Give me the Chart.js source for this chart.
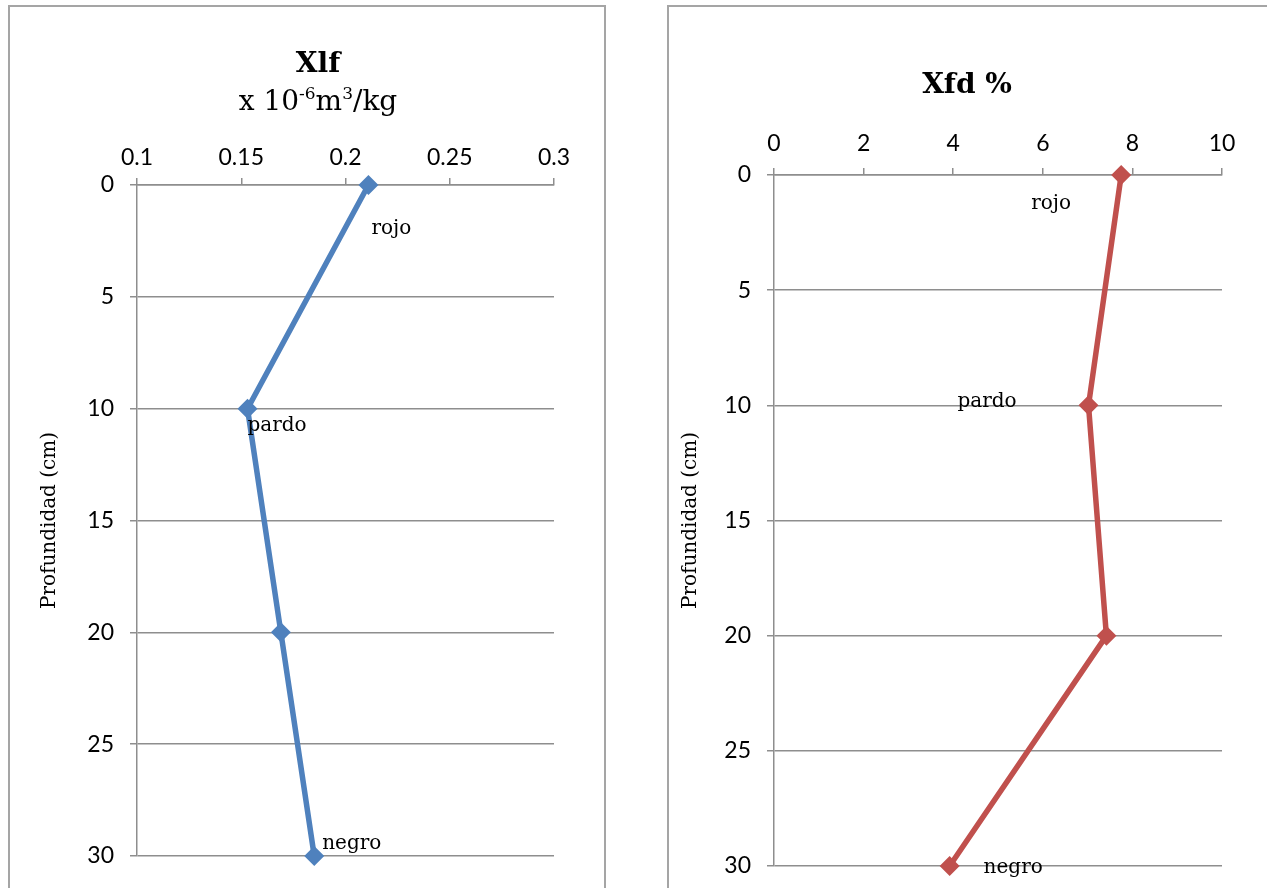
<!DOCTYPE html>
<html>
<head>
<meta charset="utf-8">
<script src="https://cdn.jsdelivr.net/npm/chart.js@4.4.1/dist/chart.umd.min.js"></script>
<style>
  html, body { margin: 0; padding: 0; background: #fff; }
  body { width: 1267px; height: 888px; position: relative; overflow: hidden; }
  .frame { position: absolute; border: 2px solid #a5a5a5; background: #fff; }
  canvas { position: absolute; top: 0; }
</style>
</head>
<body>
<div class="frame" style="left:8px; top:5px; width:594px; height:900px;"></div>
<div class="frame" style="left:667px; top:5px; width:620px; height:900px;"></div>
<canvas id="chartXlf" style="left:0px;"></canvas>
<canvas id="chartXfd" style="left:640px;"></canvas>
<script>
// Depth of each sample (cm)
const depth = [0, 10, 20, 30];
// Low-frequency mass susceptibility, x 10^-6 m3/kg
const xlf = [0.211, 0.153, 0.169, 0.185];
// Frequency-dependent susceptibility, %
const xfd = [7.75, 7.02, 7.42, 3.92];
// Soil colour of each sample
const horizon = ['rojo', 'pardo', '', 'negro'];
// Tick settings of the value axes
const xlfTicks = { min: 0.1, max: 0.3, step: 0.05 };
const xfdTicks = { min: 0, max: 10, step: 2 };
const depthTicks = { min: 0, max: 30, step: 5 };

const GRID = '#8e8e8e';
const TICK_FONT = { family: 'Lato, "Liberation Sans", sans-serif', size: 23 };
const SERIF = '"DejaVu Serif", "Liberation Serif", serif';

// Text of the colour labels, placed with an offset from each marker
const labelPlugin = {
  id: 'horizonLabels',
  afterDatasetsDraw(chart, args, opts) {
    const ctx = chart.ctx;
    const meta = chart.getDatasetMeta(0);
    ctx.save();
    ctx.font = '20px ' + SERIF;
    ctx.fillStyle = '#000';
    ctx.textAlign = 'left';
    ctx.textBaseline = 'middle';
    meta.data.forEach((pt, i) => {
      const txt = horizon[i];
      if (!txt) return;
      const off = opts.offsets[i];
      ctx.fillText(txt, pt.x + off[0], pt.y + off[1]);
    });
    ctx.restore();
  }
};

// Chart heading with optional unit line (superscripts drawn smaller and raised)
const headingPlugin = {
  id: 'heading',
  afterDraw(chart, args, opts) {
    const ctx = chart.ctx;
    ctx.save();
    ctx.fillStyle = '#000';
    ctx.textBaseline = 'alphabetic';
    ctx.textAlign = 'left';
    ctx.font = 'bold 28px ' + SERIF;
    const w = ctx.measureText(opts.title).width;
    ctx.fillText(opts.title, opts.x - w / 2, opts.titleY);
    if (opts.unit) {
      const big = '28px ' + SERIF, small = '17px ' + SERIF;
      let total = 0;
      opts.unit.forEach(seg => {
        ctx.font = seg.sup ? small : big;
        total += ctx.measureText(seg.t).width;
      });
      let x = opts.x - total / 2;
      opts.unit.forEach(seg => {
        ctx.font = seg.sup ? small : big;
        ctx.fillText(seg.t, x, opts.unitY - (seg.sup ? 11 : 0));
        x += ctx.measureText(seg.t).width;
      });
    }
    ctx.restore();
  }
};

function depthChart(id, values, ticks, color, cfg) {
  const el = document.getElementById(id);
  el.width = cfg.width; el.height = 888;
  el.style.width = cfg.width + 'px'; el.style.height = '888px';
  return new Chart(el, {
    type: 'scatter',
    data: {
      datasets: [{
        data: values.map((v, i) => ({ x: v, y: depth[i] })),
        showLine: true,
        clip: false,
        borderColor: color,
        backgroundColor: color,
        borderWidth: 5.5,
        pointStyle: 'rectRot',
        pointRadius: 10,
        pointHoverRadius: 10,
        pointBorderWidth: 0,
        tension: 0
      }]
    },
    options: {
      responsive: false,
      animation: false,
      events: [],
      layout: { padding: cfg.padding },
      plugins: {
        legend: { display: false },
        tooltip: { enabled: false },
        title: { display: false },
        horizonLabels: { offsets: cfg.offsets },
        heading: cfg.heading
      },
      scales: {
        x: {
          type: 'linear',
          position: 'top',
          min: ticks.min, max: ticks.max,
          ticks: {
            stepSize: ticks.step, color: '#000', font: TICK_FONT, padding: cfg.xPad, maxRotation: 0,
            callback: v => String(parseFloat(v.toFixed(2)))
          },
          grid: { drawOnChartArea: false, drawTicks: true, tickLength: 7, color: GRID, lineWidth: 1.5 },
          border: { display: true, color: GRID, width: 1.5 },
          afterFit(s) { s.height = cfg.xHeight; s.paddingLeft = 0; s.paddingRight = 0; }
        },
        y: {
          type: 'linear',
          position: 'left',
          reverse: true,
          min: depthTicks.min, max: depthTicks.max,
          ticks: { stepSize: depthTicks.step, color: '#000', font: TICK_FONT, padding: 16 },
          grid: { drawOnChartArea: true, drawTicks: true, tickLength: 7, color: GRID, lineWidth: 1.5 },
          border: { display: true, color: GRID, width: 1.5 },
          title: {
            display: true,
            text: 'Profundidad (cm)',
            color: '#000',
            font: { family: SERIF, size: 20 },
            padding: { top: cfg.titlePad, bottom: 0 }
          },
          afterFit(s) { s.width = cfg.yWidth; s.paddingTop = 0; s.paddingBottom = 0; }
        }
      }
    },
    plugins: [labelPlugin, headingPlugin]
  });
}

depthChart('chartXlf', xlf, xlfTicks, '#4f81bd', {
  width: 640,
  padding: { left: 20, top: 120, right: 86, bottom: 32 },
  xHeight: 65, yWidth: 117, xPad: 7, titlePad: 18,
  offsets: [[3, 44], [0, 17], null, [8, -12]],
  heading: {
    title: 'Xlf', x: 318, titleY: 72,
    unit: [{ t: 'x 10' }, { t: '-6', sup: true }, { t: 'm' }, { t: '3', sup: true }, { t: '/kg' }],
    unitY: 110
  }
});

depthChart('chartXfd', xfd, xfdTicks, '#c0504d', {
  width: 627,
  padding: { left: 20, top: 110, right: 45, bottom: 22 },
  xHeight: 65, yWidth: 114, xPad: 11, titlePad: 19,
  offsets: [[-90, 29], [-131, -4], null, [34, 2]],
  heading: { title: 'Xfd %', x: 327, titleY: 93 }
});
</script>
</body>
</html>
